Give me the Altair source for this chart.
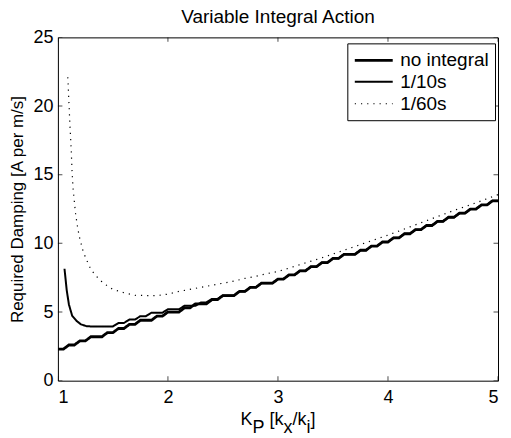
import altair as alt
import pandas as pd

SERIES = ["no integral", "1/10s", "1/60s"]

X_TICKS = [1, 2, 3, 4, 5]
Y_TICKS = [0, 5, 10, 15, 20, 25]

# no integral (thick) — stair-stepped curve
X_NI = [1.00, 1.05, 1.10, 1.15, 1.20, 1.25, 1.30, 1.35, 1.40, 1.45,
        1.50, 1.55, 1.60, 1.65, 1.70, 1.75, 1.80, 1.85, 1.90, 1.95,
        2.00, 2.05, 2.10, 2.15, 2.20, 2.25, 2.30, 2.35, 2.40, 2.45,
        2.50, 2.55, 2.60, 2.65, 2.70, 2.75, 2.80, 2.85, 2.90, 2.95,
        3.00, 3.05, 3.10, 3.15, 3.20, 3.25, 3.30, 3.35, 3.40, 3.45,
        3.50, 3.55, 3.60, 3.65, 3.70, 3.75, 3.80, 3.85, 3.90, 3.95,
        4.00, 4.05, 4.10, 4.15, 4.20, 4.25, 4.30, 4.35, 4.40, 4.45,
        4.50, 4.55, 4.60, 4.65, 4.70, 4.75, 4.80, 4.85, 4.90, 4.95,
        5.00]
Y_NI = [2.3, 2.3, 2.6, 2.6, 2.9, 2.9, 3.2, 3.2, 3.2, 3.5,
        3.5, 3.8, 3.8, 4.1, 4.1, 4.4, 4.4, 4.4, 4.7, 4.7,
        5.0, 5.0, 5.0, 5.3, 5.3, 5.6, 5.6, 5.6, 5.9, 5.9,
        6.2, 6.2, 6.2, 6.5, 6.5, 6.8, 6.8, 7.1, 7.1, 7.1,
        7.4, 7.4, 7.7, 7.7, 8.0, 8.0, 8.3, 8.3, 8.6, 8.6,
        8.9, 8.9, 9.2, 9.2, 9.2, 9.5, 9.5, 9.8, 9.8, 10.1,
        10.1, 10.4, 10.4, 10.7, 10.7, 11.0, 11.0, 11.3, 11.3, 11.6,
        11.6, 11.9, 11.9, 12.2, 12.2, 12.5, 12.5, 12.8, 12.8, 13.1,
        13.1]

# 1/10s (thin) — separate below K_P = 2.6, coincides with "no integral" above
X_10 = [1.06, 1.08, 1.10, 1.13, 1.17, 1.21, 1.26, 1.30, 1.35, 1.40,
        1.45, 1.50, 1.55, 1.60, 1.65, 1.70, 1.75, 1.80, 1.85, 1.90,
        1.95, 2.00, 2.05, 2.10, 2.15, 2.20, 2.25, 2.30, 2.35, 2.40,
        2.45, 2.50, 2.55]
Y_10 = [8.15, 6.6, 5.55, 4.72, 4.35, 4.1, 3.97, 3.95, 3.95, 3.95,
        3.95, 3.95, 4.2, 4.2, 4.45, 4.45, 4.7, 4.7, 4.95, 4.95,
        4.95, 5.2, 5.2, 5.2, 5.45, 5.45, 5.45, 5.7, 5.7, 5.95,
        5.95, 6.2, 6.2]

# 1/60s (dotted)
X_60 = [1.09, 1.10, 1.11, 1.12, 1.13, 1.14, 1.16, 1.18, 1.20, 1.23,
        1.26, 1.30, 1.35, 1.40, 1.45, 1.50, 1.60, 1.70, 1.80, 1.90,
        2.00, 2.10, 2.20, 2.30, 2.40, 2.50, 2.60, 2.70, 2.80, 2.90,
        3.00, 3.20, 3.40, 3.60, 3.80, 4.00, 4.20, 4.40, 4.60, 4.80,
        5.00]
Y_60 = [22.1, 20.3, 18.5, 17.0, 15.0, 13.8, 12.2, 11.1, 10.3, 9.4,
        8.8, 8.1, 7.6, 7.2, 6.9, 6.65, 6.4, 6.22, 6.2, 6.2,
        6.3, 6.5, 6.65, 6.8, 6.95, 7.1, 7.25, 7.45, 7.6, 7.8,
        7.95, 8.45, 8.95, 9.5, 10.05, 10.6, 11.2, 11.8, 12.4, 12.95,
        13.55]

rows = []
for x, y in zip(X_NI, Y_NI):
    rows.append({"kp": x, "damp": y, "series": SERIES[0]})
for x, y in zip(X_10, Y_10):
    rows.append({"kp": x, "damp": y, "series": SERIES[1]})
for x, y in zip(X_NI, Y_NI):
    if x >= 2.6:
        rows.append({"kp": x, "damp": y, "series": SERIES[1]})
for x, y in zip(X_60, Y_60):
    rows.append({"kp": x, "damp": y, "series": SERIES[2]})
df = pd.DataFrame(rows)

W, H = 441, 344
FONT = "Liberation Sans"
FS = 18

xs = alt.Scale(domain=[1, 5], nice=False, zero=False)
ys = alt.Scale(domain=[0, 25], nice=False, zero=False)

legend = alt.Legend(
    title=None, orient="none", legendX=290, legendY=6,
    strokeColor="black", fillColor="white", padding=6, cornerRadius=0,
    symbolType="M-1,0H3", symbolSize=361, labelFontSize=19, labelFont=FONT,
    labelColor="black", rowPadding=1, labelOffset=25,
)

lines = alt.Chart(df).mark_line(clip=True).encode(
    x=alt.X("kp:Q", scale=xs,
            axis=alt.Axis(values=X_TICKS, title=None, format="d", labelPadding=8)),
    y=alt.Y("damp:Q", scale=ys,
            axis=alt.Axis(values=Y_TICKS, title="Required Damping [A per m/s]",
                          format="d", titleFontSize=17)),
    color=alt.Color("series:N", sort=SERIES,
                    scale=alt.Scale(domain=SERIES, range=["black", "black", "black"]),
                    legend=legend),
    strokeDash=alt.StrokeDash("series:N", sort=SERIES,
                              scale=alt.Scale(domain=SERIES, range=[[1, 0], [1, 0], [1.2, 5]]),
                              legend=legend),
    strokeWidth=alt.StrokeWidth("series:N", sort=SERIES,
                                scale=alt.Scale(domain=SERIES, range=[2.8, 1.2, 1.3]),
                                legend=legend),
)

xt = pd.DataFrame({"v": X_TICKS})
yt = pd.DataFrame({"v": Y_TICKS})
tick_style = dict(clip=True, size=9, thickness=1, color="black")
xt_bot = alt.Chart(xt).mark_tick(orient="vertical", **tick_style).encode(
    x=alt.X("v:Q", scale=xs), y=alt.value(H))
xt_top = alt.Chart(xt).mark_tick(orient="vertical", **tick_style).encode(
    x=alt.X("v:Q", scale=xs), y=alt.value(0))
yt_left = alt.Chart(yt).mark_tick(orient="horizontal", **tick_style).encode(
    y=alt.Y("v:Q", scale=ys), x=alt.value(0))
yt_right = alt.Chart(yt).mark_tick(orient="horizontal", **tick_style).encode(
    y=alt.Y("v:Q", scale=ys), x=alt.value(W))

# x-axis title with subscripts: K_P [k_x/k_i]
AW = {"K": .667, "P": .667, " ": .278, "[": .278, "k": .5, "x": .5, "/": .278, "i": .222, "]": .278}
pieces = [("K", 0, 0.0), ("P", 1, 0.0), ("[k", 0, 0.278), ("x", 1, 0.0),
          ("/k", 0, 0.0), ("i", 1, 0.0), ("]", 0, 0.0)]
total = sum((sum(AW[c] for c in t) + lead) * FS for t, _, lead in pieces)
cx = W / 2 - total / 2
xlab_layers = []
for t, sub, lead in pieces:
    cx += lead * FS
    xlab_layers.append(
        alt.Chart(pd.DataFrame({"t": [t]})).mark_text(
            align="left", baseline="alphabetic", font=FONT, fontSize=FS, color="black"
        ).encode(text="t:N", x=alt.value(cx), y=alt.value(H + 44 + (8 if sub else 0)))
    )
    cx += sum(AW[c] for c in t) * FS

chart = alt.layer(lines, xt_bot, xt_top, yt_left, yt_right, *xlab_layers).properties(
    width=W, height=H,
    title=alt.TitleParams("Variable Integral Action", font=FONT, fontSize=19,
                          fontWeight="normal", color="black", anchor="middle",
                          offset=1, frame="group"),
    autosize=alt.AutoSizeParams(type="none"),
    padding={"left": 50, "top": 29, "right": 5, "bottom": 60},
    background="white",
).configure_view(
    stroke="black", strokeWidth=1
).configure_axis(
    domain=False, ticks=False, grid=False,
    labelFont=FONT, labelFontSize=FS, labelColor="black", labelPadding=5,
    titleFont=FONT, titleFontSize=FS, titleColor="black", titleFontWeight="normal",
    titlePadding=6,
)

chart.save("out.html", embed_options={"renderer": "svg", "actions": False})
